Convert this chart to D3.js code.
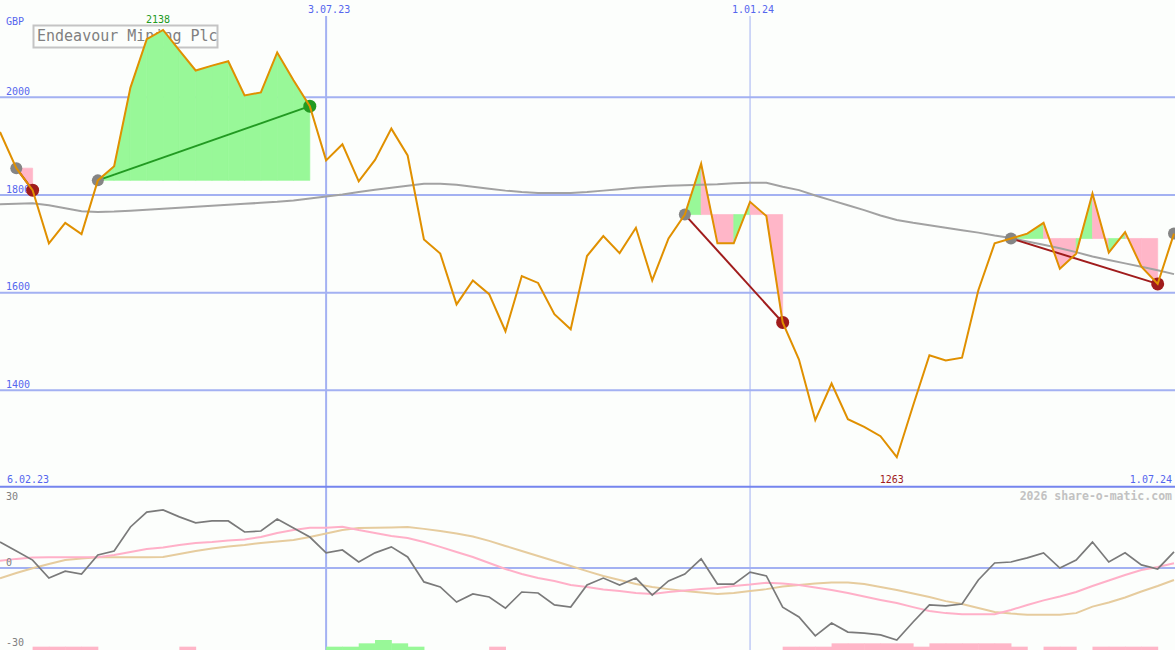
<!DOCTYPE html>
<html><head><meta charset="utf-8">
<script src="https://cdn.jsdelivr.net/npm/d3@7"></script>
<style>body{margin:0;background:#fcfefc}svg{display:block}text{font-family:"DejaVu Sans Mono",monospace}</style>
</head><body>
<script>
// ---- data ----
const dates = d3.timeMonday.range(new Date(2023,1,13), new Date(2024,6,2)); // weekly, 73 points
const price = [1929,1855,1810,1701,1743,1720,1830,1859,2020,2119,2138,2096,2055,2065,2074,2004,2010,2092,2035,1982,
  1871,1904,1828,1872,1936,1881,1709,1680,1576,1625,1597,1521,1634,1620,1556,1525,1675,1716,1681,1733,
  1625,1711,1760,1864,1701,1701,1786,1757,1539,1463,1339,1414,1341,1325,1306,1263,1369,1472,1461,1467,
  1605,1701,1711,1721,1743,1649,1680,1803,1682,1724,1653,1618,1721];
const movAvg = [1781,1782,1783,1779,1773,1767,1765,1766,1768,1770,1772,1774,1776,1778,1780,1782,1784,1786,1789,1793,
  1797,1801,1806,1811,1815,1819,1823,1823,1821,1817,1813,1809,1806,1804,1804,1804,1806,1809,1812,1815,
  1817,1819,1820,1821,1822,1824,1825,1825,1817,1810,1799,1789,1779,1769,1758,1749,1743,1738,1733,1728,
  1723,1717,1712,1705,1698,1691,1683,1674,1667,1660,1653,1646,1638];
const oscGray = [10.8,7.1,3.3,-4.2,-1.3,-2.5,5.4,7.1,17.1,23.3,24.2,21.3,18.8,19.6,19.6,15.0,15.4,20.4,16.7,12.9,
  6.3,7.5,2.5,6.3,8.8,4.6,-5.8,-7.9,-14.2,-10.8,-12.1,-16.7,-10.0,-10.4,-15.4,-16.3,-7.1,-4.2,-7.1,-4.2,
  -11.3,-5.4,-2.5,3.8,-6.7,-6.7,-1.7,-3.3,-16.3,-20.4,-28.3,-22.9,-26.7,-27.1,-27.9,-30.0,-22.5,-15.4,-15.8,-15.0,
  -5.0,2.1,2.5,4.2,6.3,0.0,3.3,10.8,2.5,6.3,1.3,-0.4,6.7];
const oscPink = [3.0,3.8,4.4,4.5,4.5,4.5,4.5,5.4,6.7,7.9,8.5,9.6,10.4,10.8,11.5,11.9,12.9,14.6,15.8,16.8,
  16.8,17.2,15.8,14.6,13.3,12.5,10.8,8.8,6.7,4.6,2.1,-0.4,-2.5,-4.2,-5.4,-7.1,-7.9,-9.0,-9.6,-10.4,
  -10.8,-10.0,-9.4,-8.8,-8.3,-7.5,-6.9,-6.1,-6.5,-7.1,-8.1,-9.2,-10.4,-11.9,-13.3,-14.6,-16.3,-17.9,-18.8,-19.3,
  -19.3,-19.3,-17.5,-15.4,-13.5,-11.9,-10.0,-7.5,-5.2,-2.9,-0.8,0.4,2.0];
const oscTan = [-4.3,-2.1,-0.1,1.7,3.3,4.0,4.5,4.5,4.5,4.5,4.6,5.8,7.1,8.1,9.0,9.6,10.4,11.0,11.7,12.9,
  14.4,15.8,16.7,16.8,16.9,17.1,16.3,15.4,14.4,13.1,11.3,9.2,7.1,5.0,2.9,0.8,-1.3,-3.3,-5.0,-6.7,
  -7.9,-8.8,-9.6,-10.2,-10.8,-10.4,-9.6,-8.8,-7.7,-7.1,-6.5,-6.0,-6.0,-6.7,-7.9,-9.2,-10.6,-12.1,-13.8,-15.0,
  -16.7,-18.3,-19.0,-19.5,-19.5,-19.5,-18.8,-16.1,-14.4,-12.3,-9.8,-7.5,-5.0];
const hist = [0,0,-1,-1,-1,-1,0,0,0,0,0,-1,0,0,0,0,0,0,0,0,
  1,1,2,3,2,1,0,0,0,0,-1,0,0,0,0,0,0,0,0,0,
  0,0,0,0,0,0,0,0,-1,-1,-1,-2,-2,-2,-2,-2,-1,-2,-2,-2,
  -2,-2,-1,0,-1,-1,0,-1,-1,-1,-1,0,0];
const signalEntry = [1,6,42,62,72];
const signalExit = [2,19,48,71];
const priceTicks = [2000,1800,1600,1400];
const oscTicks = [30,0,-30];
const dateLines = [new Date(2023,6,3), new Date(2024,0,1)];
const dateLineLabels = ["3.07.23","1.01.24"];
const startLabel = "6.02.23", endLabel = "1.07.24";
const title = "Endeavour Mining Plc";

// ---- layout ----
const W = 1175, H = 650;
const x = d3.scaleTime([dates[0], dates[dates.length-1]], [0, 1174]);
const y = d3.scaleLinear([1200, 2200], [488, -0.3]);
const yo = d3.scaleLinear([-30, 30], [640, 496]);
const yh = d3.scaleLinear([0, 3], [650, 640]);

const blue = "#5566ee", grid = "#a3b1f2";
const GREEN_FILL = "#98f898", PINK_FILL = "#ffb6c8";
const svg = d3.select("body").append("svg").attr("width", W).attr("height", H);
svg.append("rect").attr("width", W).attr("height", H).attr("fill", "#fcfefc");

// title box (under the chart)
svg.append("rect").attr("x", 33.5).attr("y", 25.5).attr("width", 184).attr("height", 22)
  .attr("fill", "none").attr("stroke", "#c4c4c4").attr("stroke-width", 2);
svg.append("text").attr("x", 37).attr("y", 41).attr("font-size", 15).attr("fill", "#808080").text(title);

// grid
svg.selectAll(".hg").data(priceTicks).join("line")
  .attr("x1", 0).attr("x2", W).attr("y1", d => y(d)).attr("y2", d => y(d))
  .attr("stroke", grid).attr("stroke-width", 2);
svg.append("line").attr("x1", 0).attr("x2", W).attr("y1", yo(0)).attr("y2", yo(0))
  .attr("stroke", grid).attr("stroke-width", 2);
svg.selectAll(".vg").data(dateLines).join("line")
  .attr("x1", d => x(d)).attr("x2", d => x(d)).attr("y1", 16).attr("y2", H)
  .attr("stroke", grid).attr("stroke-width", (d, i) => i === 0 ? 2 : 1);
svg.append("line").attr("x1", 0).attr("x2", W).attr("y1", 486.7).attr("y2", 486.7)
  .attr("stroke", "#7585ee").attr("stroke-width", 2);

// labels
svg.append("text").attr("x", 6).attr("y", 24.5).attr("font-size", 10).attr("fill", blue).text("GBP");
svg.selectAll(".pt").data(priceTicks).join("text")
  .attr("x", 6).attr("y", d => y(d) - 2.5).attr("font-size", 10).attr("fill", blue).text(d => d);
svg.selectAll(".dl").data(dateLines).join("text")
  .attr("x", d => x(d) + 3).attr("y", 12.5).attr("text-anchor", "middle").attr("font-size", 10)
  .attr("fill", blue).text((d, i) => dateLineLabels[i]);
svg.append("text").attr("x", 7).attr("y", 482.5).attr("font-size", 10).attr("fill", blue).text(startLabel);
svg.append("text").attr("x", 1172).attr("y", 482.5).attr("text-anchor", "end").attr("font-size", 10).attr("fill", blue).text(endLabel);

// trade fills
const idx = d3.range(price.length);
signalExit.forEach((ex, t) => {
  const en = signalEntry[t], level = price[en];
  for (let k = en; k < ex; k++) {
    const seg = [k, k + 1];
    const ar = d3.area().x(i => x(dates[i])).y0(y(level)).y1(i => y(price[i]));
    const col = price[k + 1] > level ? GREEN_FILL : PINK_FILL;
    svg.append("path").attr("d", ar(seg)).attr("fill", col)
      .attr("stroke", col).attr("stroke-width", 0.7);
  }
});

// moving average
svg.append("path").attr("d", d3.line().x(i => x(dates[i])).y(i => y(movAvg[i]))(idx))
  .attr("fill", "none").attr("stroke", "#a2a2a2").attr("stroke-width", 2);

// signal lines
signalExit.forEach((ex, t) => {
  const en = signalEntry[t];
  const win = price[ex] > price[en];
  svg.append("line").attr("x1", x(dates[en])).attr("y1", y(price[en]))
    .attr("x2", x(dates[ex])).attr("y2", y(price[ex]))
    .attr("stroke", win ? "#229a22" : "#a01c1c").attr("stroke-width", 2);
});
// circles
svg.selectAll(".en").data(signalEntry).join("circle")
  .attr("cx", i => x(dates[i])).attr("cy", i => y(price[i])).attr("r", 6).attr("fill", "#858585");
svg.selectAll(".ex").data(signalExit).join("circle")
  .attr("cx", i => x(dates[i])).attr("cy", i => y(price[i])).attr("r", 6.5)
  .attr("fill", (i, t) => price[i] > price[signalEntry[t]] ? "#229a22" : "#a01c1c");

// price line
svg.append("path").attr("d", d3.line().x(i => x(dates[i])).y(i => y(price[i]))(idx))
  .attr("fill", "none").attr("stroke", "#e09000").attr("stroke-width", 2).attr("stroke-linejoin", "miter");

// high / low labels
const hiI = d3.maxIndex(price), loI = d3.minIndex(price);
svg.append("text").attr("x", x(dates[hiI]) - 5).attr("y", y(price[hiI]) - 7).attr("text-anchor", "middle")
  .attr("font-size", 10).attr("fill", "#229a22").text(price[hiI]);
svg.append("text").attr("x", x(dates[loI]) - 5).attr("y", 482.5).attr("text-anchor", "middle")
  .attr("font-size", 10).attr("fill", "#a01c1c").text(price[loI]);

// lower panel
svg.selectAll(".hb").data(idx.slice(0, -1).filter(i => hist[i] !== 0)).join("rect")
  .attr("x", i => x(dates[i])).attr("width", i => x(dates[i + 1]) - x(dates[i]) + 0.5)
  .attr("y", i => yh(Math.abs(hist[i]))).attr("height", i => 650 - yh(Math.abs(hist[i])))
  .attr("fill", i => hist[i] > 0 ? GREEN_FILL : PINK_FILL);
const ol = arr => d3.line().x(i => x(dates[i])).y(i => yo(arr[i]))(idx);
svg.append("path").attr("d", ol(oscTan)).attr("fill", "none").attr("stroke", "#e6cc9e").attr("stroke-width", 2);
svg.append("path").attr("d", ol(oscPink)).attr("fill", "none").attr("stroke", "#ffb0c8").attr("stroke-width", 2);
svg.append("path").attr("d", ol(oscGray)).attr("fill", "none").attr("stroke", "#7a7a7a").attr("stroke-width", 1.7);

const oscLabelY = {"30": 500, "0": 565.5, "-30": 646};
svg.selectAll(".ot").data(oscTicks).join("text")
  .attr("x", 6).attr("y", d => oscLabelY[d]).attr("font-size", 10).attr("fill", "#808080").text(d => d);
svg.append("text").attr("x", 1172).attr("y", 500).attr("text-anchor", "end").attr("font-size", 11.5)
  .attr("font-weight", "bold").attr("fill", "#c2c2c2").text("2026 share-o-matic.com");
</script>
</body></html>
